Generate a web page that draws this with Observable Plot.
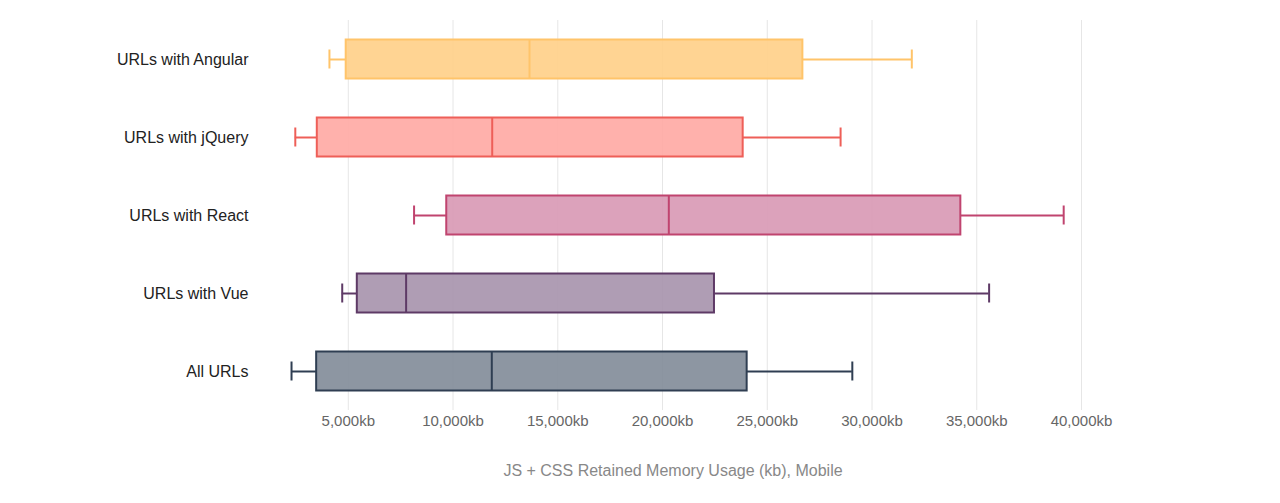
<!DOCTYPE html>
<html>
<head>
<meta charset="utf-8">
<script src="https://cdn.jsdelivr.net/npm/d3@7"></script>
<script src="https://cdn.jsdelivr.net/npm/@observablehq/plot@0.6"></script>
<style>
  html, body { margin: 0; padding: 0; background: #fff; }
  #chart { width: 1280px; height: 503px; }
</style>
</head>
<body>
<div id="chart"></div>
<script>
const categories = ["URLs with Angular", "URLs with jQuery", "URLs with React", "URLs with Vue", "All URLs"];
const minValues    = [4100, 2470, 8140, 4710, 2290];
const q1Values     = [4900, 3520, 9700, 5430, 3490];
const medianValues = [13650, 11870, 20300, 7760, 11850];
const q3Values     = [26700, 23850, 34240, 22480, 24040];
const maxValues    = [31900, 28500, 39150, 35590, 29060];
const fillColors   = ["#ffd08a", "#ffaaa5", "#d99ab5", "#a895ae", "#838d9a"];
const strokeColors = ["#ffc46a", "#ee5f58", "#c0446f", "#5e3a66", "#2f3e52"];
const tickValues   = [5000, 10000, 15000, 20000, 25000, 30000, 35000, 40000];
const axisTitle    = "JS + CSS Retained Memory Usage (kb), Mobile";

const rows = categories.map((name, i) => ({
  name,
  min: minValues[i], q1: q1Values[i], median: medianValues[i], q3: q3Values[i], max: maxValues[i],
  fill: fillColors[i], stroke: strokeColors[i]
}));

const fmt = d => d3.format(",")(d) + "kb";

const chart = Plot.plot({
  width: 1280,
  height: 503,
  marginLeft: 264,
  marginRight: 199,
  marginTop: 20,
  marginBottom: 93,
  style: { fontFamily: "'Liberation Sans', Arial, sans-serif", background: "#fff" },
  x: {
    domain: [1000, 40000],
    ticks: tickValues,
    tickFormat: fmt,
    label: axisTitle,
    labelAnchor: "center",
    labelArrow: "none"
  },
  y: { domain: categories, padding: 0, label: null },
  marks: [
    Plot.gridX(tickValues, { stroke: "#e6e6e6", strokeOpacity: 1, strokeWidth: 1 }),
    Plot.axisX({
      ticks: tickValues, tickFormat: fmt, tickSize: 0, tickPadding: 5,
      fontSize: 15, fill: "#666", label: axisTitle, labelAnchor: "center", labelArrow: "none",
      labelOffset: 65
    }),
    Plot.axisY({ tickSize: 0, tickPadding: 16, fontSize: 16, fill: "#222", label: null }),
    // whiskers
    Plot.ruleY(rows, { y: "name", x1: "min", x2: "q1", stroke: "stroke", strokeWidth: 2 }),
    Plot.ruleY(rows, { y: "name", x1: "q3", x2: "max", stroke: "stroke", strokeWidth: 2 }),
    Plot.tickX(rows, { x: "min", y: "name", stroke: "stroke", strokeWidth: 2, insetTop: 29.5, insetBottom: 29.5 }),
    Plot.tickX(rows, { x: "max", y: "name", stroke: "stroke", strokeWidth: 2, insetTop: 29.5, insetBottom: 29.5 }),
    // boxes
    Plot.rect(rows, {
      y: "name", x1: "q1", x2: "q3", fill: "fill", fillOpacity: 0.92,
      stroke: "stroke", strokeWidth: 2, insetTop: 19.5, insetBottom: 19.5
    }),
    // medians
    Plot.tickX(rows, { x: "median", y: "name", stroke: "stroke", strokeWidth: 2, insetTop: 19.5, insetBottom: 19.5 })
  ]
});

d3.select(chart).selectAll("[aria-label='x-axis label'] text").attr("fill", "#888").attr("font-size", 16);
document.getElementById("chart").appendChild(chart);
</script>
</body>
</html>
